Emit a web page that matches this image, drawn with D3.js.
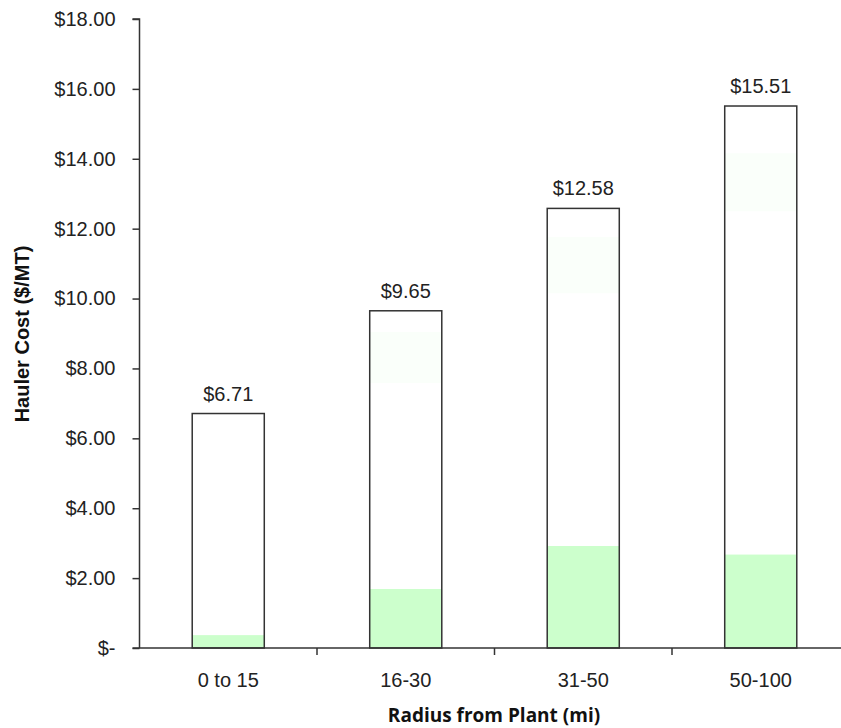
<!DOCTYPE html>
<html>
<head>
<meta charset="utf-8">
<script src="https://cdn.jsdelivr.net/npm/d3@7/dist/d3.min.js"></script>
<style>
  html, body { margin: 0; padding: 0; background: #fff; }
  svg { display: block; }
</style>
</head>
<body>
<svg id="chart" width="841" height="728"></svg>
<script>
// ---- data ----
const categories = ["0 to 15", "16-30", "31-50", "50-100"];
const totals = [6.71, 9.65, 12.58, 15.51];
const segGreen = [0.37, 1.69, 2.92, 2.68];
const segWhiteLow = [6.34, 5.89, 7.23, 9.82];
const segFaint = [0, 1.46, 1.62, 1.66];
const segWhiteTop = [0, 0.61, 0.81, 1.35];
const yTicks = [0, 2, 4, 6, 8, 10, 12, 14, 16, 18];
const yTitle = "Hauler Cost ($/MT)";
const xTitle = "Radius from Plant (mi)";

const seriesKeys = ["green", "whiteLow", "faint", "whiteTop"];
const seriesColors = { green: "#ccffcc", whiteLow: "#ffffff", faint: "#fafffa", whiteTop: "#ffffff" };

const rows = categories.map((c, i) => ({
  cat: c, green: segGreen[i], whiteLow: segWhiteLow[i], faint: segFaint[i], whiteTop: segWhiteTop[i], total: totals[i]
}));

const svg = d3.select("#chart");
const x0 = 139.5, x1 = 849.5, yBottom = 648, yTop = 19;
const FONT = "Liberation Sans, Arial, sans-serif";

const x = d3.scaleBand().domain(categories).range([x0, x1]).paddingInner(0.594).paddingOuter(0.297);
const y = d3.scaleLinear().domain([0, 18]).range([yBottom, yTop]);

const stack = d3.stack().keys(seriesKeys)(rows);

// stacked segments
svg.append("g").selectAll("g").data(stack).join("g")
  .attr("fill", d => seriesColors[d.key])
  .selectAll("rect").data(d => d).join("rect")
  .attr("x", d => x(d.data.cat))
  .attr("width", x.bandwidth())
  .attr("y", d => y(d[1]))
  .attr("height", d => y(d[0]) - y(d[1]));

// outline of total bars
svg.append("g").selectAll("rect").data(rows).join("rect")
  .attr("x", d => x(d.cat))
  .attr("width", x.bandwidth())
  .attr("y", d => y(d.total))
  .attr("height", d => y(0) - y(d.total))
  .attr("fill", "none")
  .attr("stroke", "#333")
  .attr("stroke-width", 1.5);

// value labels
svg.append("g").selectAll("text").data(rows).join("text")
  .attr("x", d => x(d.cat) + x.bandwidth() / 2)
  .attr("y", d => y(d.total) - 13)
  .attr("text-anchor", "middle")
  .attr("font-family", FONT)
  .attr("font-size", 20)
  .attr("fill", "#222")
  .text(d => "$" + d.total.toFixed(2));

// Y axis
const fmt = v => v === 0 ? "$-" : "$" + v.toFixed(2);
const yAxis = d3.axisLeft(y).tickValues(yTicks).tickSize(7).tickPadding(17).tickFormat(fmt);
const gy = svg.append("g").attr("transform", `translate(${x0},0)`).call(yAxis);
gy.select(".domain").attr("stroke", "#333").attr("stroke-width", 1.5).attr("d", `M-7,${yTop}H0V${yBottom}`);
gy.selectAll(".tick line").attr("stroke", "#333").attr("stroke-width", 1.5);
gy.selectAll(".tick text").attr("font-family", FONT).attr("font-size", 20).attr("fill", "#222");

// X axis
const gx = svg.append("g").attr("transform", `translate(0,${yBottom})`);
gx.append("line").attr("x1", x0 - 7).attr("x2", x1).attr("y1", 0).attr("y2", 0)
  .attr("stroke", "#333").attr("stroke-width", 1.5);
const step = x.step();
const boundaries = categories.map(c => x(c) - (step - x.bandwidth()) / 2).concat([x1]);
gx.selectAll("line.tk").data(boundaries.slice(1)).join("line").attr("class", "tk")
  .attr("x1", d => d).attr("x2", d => d).attr("y1", 0).attr("y2", 7)
  .attr("stroke", "#333").attr("stroke-width", 1.5);
gx.selectAll("text").data(categories).join("text")
  .attr("x", d => x(d) + x.bandwidth() / 2)
  .attr("y", 39)
  .attr("text-anchor", "middle")
  .attr("font-family", FONT)
  .attr("font-size", 20)
  .attr("fill", "#222")
  .text(d => d);

// titles
svg.append("text")
  .attr("x", 494).attr("y", 722)
  .attr("text-anchor", "middle")
  .attr("font-family", "Open Sans, sans-serif")
  .attr("font-weight", "bold")
  .attr("font-size", 19)
  .attr("fill", "#111")
  .text(xTitle);

svg.append("text")
  .attr("transform", "translate(29,334) rotate(-90)")
  .attr("text-anchor", "middle")
  .attr("font-family", FONT)
  .attr("font-weight", "bold")
  .attr("font-size", 20)
  .attr("fill", "#111")
  .text(yTitle);
</script>
</body>
</html>
